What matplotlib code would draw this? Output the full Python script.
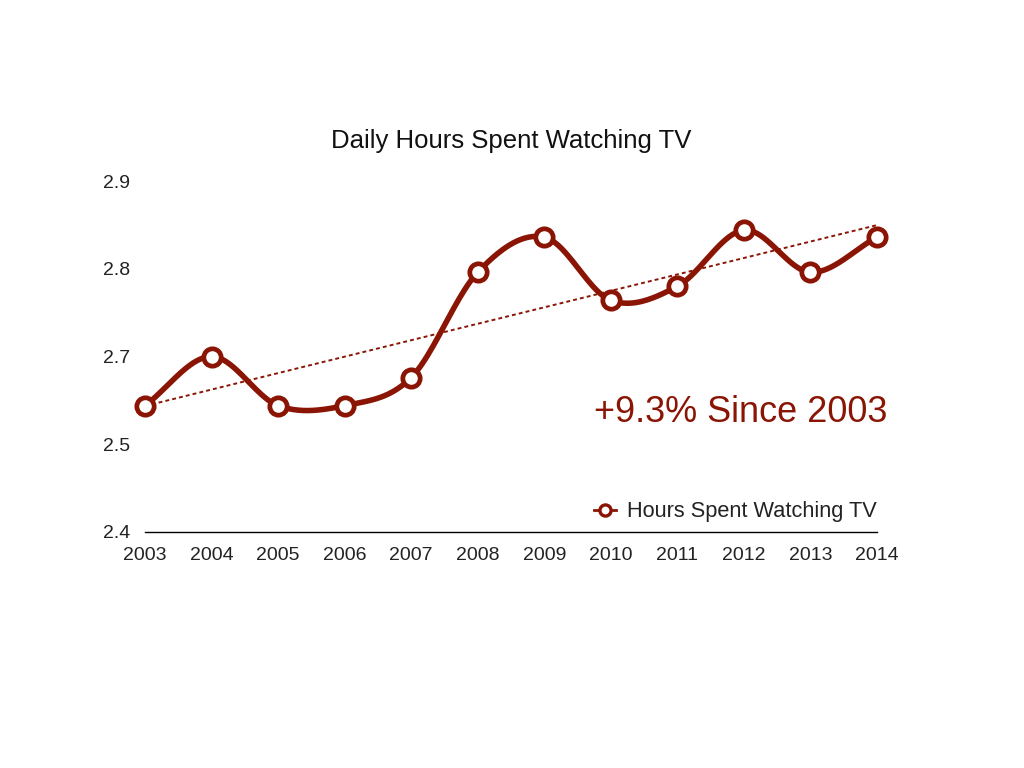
import numpy as np
import matplotlib
matplotlib.use("Agg")
import matplotlib.pyplot as plt
from matplotlib.lines import Line2D

years = [2003, 2004, 2005, 2006, 2007, 2008, 2009, 2010, 2011, 2012, 2013, 2014]
hours = [2.58, 2.65, 2.58, 2.58, 2.62, 2.77, 2.82, 2.73, 2.75, 2.83, 2.77, 2.82]
ytick_vals = [2.4, 2.525, 2.65, 2.775, 2.9]
ytick_labels = ["2.4", "2.5", "2.7", "2.8", "2.9"]
title = "Daily Hours Spent Watching TV"
series_name = "Hours Spent Watching TV"
note = "+9.3% Since 2003"

RED = "#8a1505"
plt.rcParams['font.family'] = ['Liberation Sans', 'DejaVu Sans']

def catmull_rom(x, y, n=40):
    x = np.asarray(x, float); y = np.asarray(y, float)
    P = np.column_stack([x, y])
    P = np.vstack([2 * P[0] - P[1], P, 2 * P[-1] - P[-2]])
    out = []
    for i in range(1, len(P) - 2):
        p0, p1, p2, p3 = P[i - 1], P[i], P[i + 1], P[i + 2]
        t = np.linspace(0, 1, n, endpoint=False)[:, None]
        m1 = (p2 - p0) / 2
        m2 = (p3 - p1) / 2
        h00 = 2 * t**3 - 3 * t**2 + 1
        h10 = t**3 - 2 * t**2 + t
        h01 = -2 * t**3 + 3 * t**2
        h11 = t**3 - t**2
        out.append(h00 * p1 + h10 * m1 + h01 * p2 + h11 * m2)
    out.append(P[-2][None, :])
    out = np.vstack(out)
    return out[:, 0], out[:, 1]

fig = plt.figure(figsize=(10.24, 7.68), dpi=100)
ax = fig.add_axes([145 / 1024, 1 - 532 / 768, (877 - 145) / 1024, (532 - 181) / 768])

xs, ys = catmull_rom(years, hours)
ax.plot(xs, ys, color=RED, lw=4.0, solid_capstyle='round', clip_on=False, zorder=3)

coef = np.polyfit(years, hours, 1)
tx = np.array([years[0], years[-1]])
ax.plot(tx, np.polyval(coef, tx), color=RED, lw=1.4, linestyle=(0, (2, 1.6)), clip_on=False, zorder=2)

ax.plot(years, hours, linestyle='none', marker='o', markersize=12.5, markerfacecolor='white',
        markeredgecolor=RED, markeredgewidth=3.4, clip_on=False, zorder=4)

ax.set_xlim(2003, 2014)
ax.set_ylim(2.4, 2.9)
ax.set_xticks(years)
ax.set_xticklabels([str(y) for y in years])
ax.set_yticks(ytick_vals)
ax.set_yticklabels(ytick_labels)
for s in ['top', 'right', 'left']:
    ax.spines[s].set_visible(False)
ax.spines['bottom'].set_linewidth(1.0)
ax.spines['bottom'].set_color('black')
ax.tick_params(axis='both', length=0, labelsize=14, colors='#222222')
ax.tick_params(axis='x', pad=11)
for lab in ax.get_yticklabels():
    lab.set_horizontalalignment('left')
ax.tick_params(axis='y', pad=30)

fig.text(511 / 1024, 1 - 141 / 768, title, ha='center', va='center', fontsize=18.5, color='#111111')
fig.text(887 / 1024, 1 - 412 / 768, note, ha='right', va='center', fontsize=26, color=RED)

handle = Line2D([0], [0], color=RED, lw=2, marker='o', markersize=8, markerfacecolor='white',
                markeredgecolor=RED, markeredgewidth=2.4)
leg = ax.legend([handle], [series_name], loc='center right',
                bbox_to_anchor=(896 / 1024, 1 - 512 / 768), bbox_transform=fig.transFigure,
                frameon=False, fontsize=15.7, handlelength=1.0, handletextpad=0.5)
for t in leg.get_texts():
    t.set_color('#222222')

fig.savefig("out.png", dpi=100, facecolor='white')
